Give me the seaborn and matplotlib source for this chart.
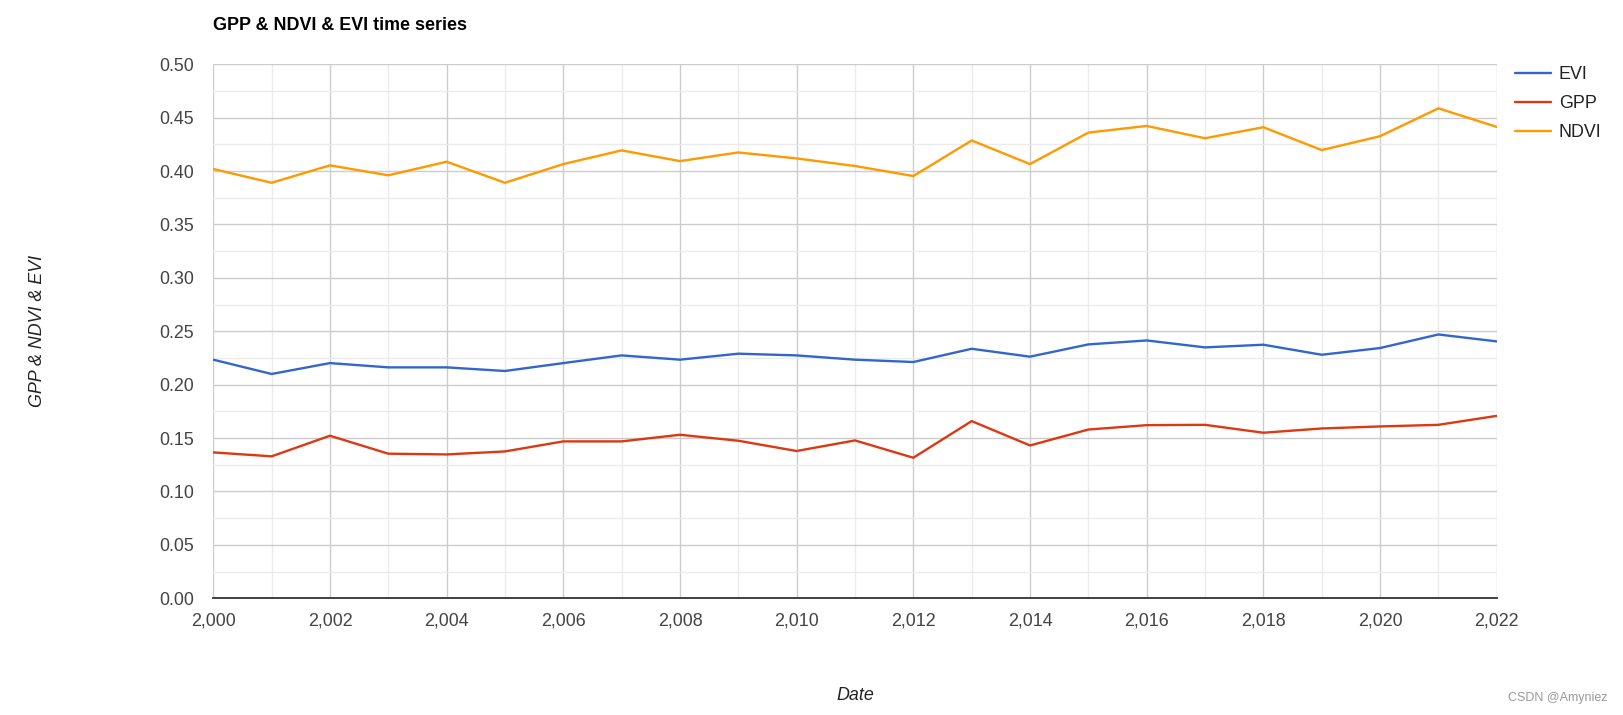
import matplotlib
matplotlib.use("Agg")
import matplotlib.pyplot as plt
import seaborn as sns
import pandas as pd
from matplotlib.ticker import FuncFormatter, MultipleLocator

years = list(range(2000, 2023))
evi = [0.2234, 0.2100, 0.2202, 0.2162, 0.2162, 0.2128, 0.2202, 0.2274, 0.2234, 0.2290, 0.2274,
       0.2234, 0.2212, 0.2336, 0.2262, 0.2377, 0.2414, 0.2349, 0.2374, 0.2280, 0.2343, 0.2470, 0.2405]
gpp = [0.1366, 0.1329, 0.1522, 0.1354, 0.1347, 0.1375, 0.1469, 0.1469, 0.1531, 0.1475, 0.1379,
       0.1478, 0.1316, 0.1659, 0.1431, 0.1580, 0.1621, 0.1624, 0.1550, 0.1590, 0.1609, 0.1624, 0.1708]
ndvi = [0.4019, 0.3890, 0.4053, 0.3960, 0.4087, 0.3890, 0.4065, 0.4193, 0.4093, 0.4174, 0.4118,
        0.4047, 0.3953, 0.4286, 0.4065, 0.4360, 0.4422, 0.4307, 0.4410, 0.4196, 0.4326, 0.4587, 0.4413]
series_names = ["EVI", "GPP", "NDVI"]
colors = ["#3366cc", "#dc3912", "#ff9900"]

df = pd.DataFrame({
    "Date": years * 3,
    "value": evi + gpp + ndvi,
    "series": [s for s in series_names for _ in years],
})

sns.set_theme(style="white")
plt.rcParams["font.family"] = ["Liberation Sans", "DejaVu Sans"]

fig = plt.figure(figsize=(16.23, 7.15), dpi=100)
ax = fig.add_axes([0.1314, 0.1632, 0.9222 - 0.1314, 0.9102 - 0.1632])

sns.lineplot(data=df, x="Date", y="value", hue="series", hue_order=series_names,
             palette=colors, linewidth=1.7, ax=ax, legend=True)

ax.set_xlim(2000, 2022)
ax.set_ylim(0, 0.5)
ax.xaxis.set_major_locator(MultipleLocator(2))
ax.xaxis.set_minor_locator(MultipleLocator(1))
ax.yaxis.set_major_locator(MultipleLocator(0.05))
ax.yaxis.set_minor_locator(MultipleLocator(0.025))
ax.xaxis.set_major_formatter(FuncFormatter(lambda v, p: f"{v:,.0f}"))
ax.yaxis.set_major_formatter(FuncFormatter(lambda v, p: f"{v:.2f}"))
ax.grid(which="major", color="#cccccc", linewidth=1.0)
ax.grid(which="minor", color="#ebebeb", linewidth=1.0)
ax.set_axisbelow(True)
for side in ["top", "right", "left"]:
    ax.spines[side].set_visible(False)
ax.spines["bottom"].set_color("#333333")
ax.spines["bottom"].set_linewidth(1.3)
ax.tick_params(axis="both", which="both", length=0, labelsize=12.9, colors="#444444")
ax.tick_params(axis="y", pad=14)
ax.tick_params(axis="x", pad=10)

ax.set_xlabel("")
ax.set_ylabel("")
fig.text(855 / 1623, 1 - 695 / 715, "Date", style="italic", fontsize=12.9,
         color="#222222", ha="center", va="center")
fig.text(38 / 1623, 1 - 331 / 715, "GPP & NDVI & EVI", style="italic", fontsize=12.9,
         color="#222222", ha="center", va="center", rotation=90)
fig.text(213 / 1623, 1 - 26 / 715, "GPP & NDVI & EVI time series", fontweight="bold",
         fontsize=12.9, color="#000000", ha="left", va="center")
fig.text(1607 / 1623, 1 - 698 / 715, "CSDN @Amyniez", fontsize=9, color="#999999",
         ha="right", va="center")

handles, labels = ax.get_legend_handles_labels()
ax.legend(handles, labels, loc="upper left", bbox_to_anchor=(1515 / 1623, 1 - 66 / 715),
          bbox_transform=fig.transFigure, frameon=False, fontsize=12.9,
          handlelength=2.0, handletextpad=0.45, labelspacing=0.68, borderpad=0,
          borderaxespad=0, labelcolor="#222222")

fig.savefig("out.png", dpi=100)
